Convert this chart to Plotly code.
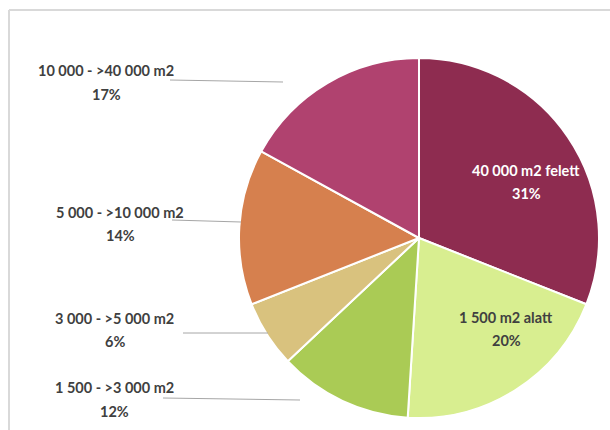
import plotly.graph_objects as go

# slice order: clockwise from 12 o'clock
categories = ["40 000 m2 felett", "1 500 m2 alatt", "1 500 - >3 000 m2",
              "3 000 - >5 000 m2", "5 000 - >10 000 m2", "10 000 - >40 000 m2"]
shares = [31, 20, 12, 6, 14, 17]
colors = ["#8E2C50", "#D8EE90", "#AACB55", "#D9C27E", "#D6804E", "#B0426F"]

W, H = 610, 430
FONT = "Lato"
GREY = "#404040"

# label placement (pixel coords): name centre x, name y, pct y, text colour
label_pos = {
    "40 000 m2 felett": (526, 170, 193, "white"),
    "1 500 m2 alatt": (506, 317, 340, GREY),
    "1 500 - >3 000 m2": (115, 387, 411, GREY),
    "3 000 - >5 000 m2": (115, 318, 341, GREY),
    "5 000 - >10 000 m2": (120, 212, 235, GREY),
    "10 000 - >40 000 m2": (106, 70, 94, GREY),
}
# leader lines (pixel coords)
leaders = {
    "1 500 - >3 000 m2": (163, 398, 300, 400),
    "3 000 - >5 000 m2": (183, 333, 268, 333),
    "5 000 - >10 000 m2": (172, 220, 241, 222),
    "10 000 - >40 000 m2": (170, 80, 283, 82),
}

cx, cy, r = 419, 238, 180

fig = go.Figure(go.Pie(
    labels=categories,
    values=shares,
    sort=False,
    direction="clockwise",
    rotation=0,
    marker=dict(colors=colors, line=dict(color="white", width=2)),
    textinfo="none",
    hoverinfo="label+percent",
    domain=dict(x=[(cx - r) / W, (cx + r) / W], y=[1 - (cy + r) / H, 1 - (cy - r) / H]),
    showlegend=False,
))


def px(x):
    return x / W


def py(y):
    return 1 - y / H


annotations = []
for cat, val in zip(categories, shares):
    x, y1, y2, col = label_pos[cat]
    for txt, y in ((cat, y1), (f"{val}%", y2)):
        annotations.append(dict(
            x=px(x), y=py(y), xref="paper", yref="paper", text=f"<b>{txt}</b>",
            showarrow=False, xanchor="center", yanchor="middle",
            font=dict(family=FONT, size=14.5, color=col),
        ))

shapes = []
for cat, (x0, y0, x1, y1) in leaders.items():
    shapes.append(dict(type="line", xref="paper", yref="paper",
                       x0=px(x0), y0=py(y0), x1=px(x1), y1=py(y1),
                       line=dict(color="#A6A6A6", width=1)))
# chart frame (left and top edges)
shapes.append(dict(type="line", xref="paper", yref="paper", x0=px(9), y0=py(10), x1=px(9), y1=0,
                   line=dict(color="#D9D9D9", width=2)))
shapes.append(dict(type="line", xref="paper", yref="paper", x0=px(9), y0=py(10), x1=1, y1=py(10),
                   line=dict(color="#D9D9D9", width=2)))

fig.update_layout(
    width=W, height=H,
    margin=dict(l=0, r=0, t=0, b=0),
    paper_bgcolor="white",
    plot_bgcolor="white",
    annotations=annotations,
    shapes=shapes,
)

# drop the browser's default body margin so the figure sits at the page origin
fig.write_html("out.html", config={"displayModeBar": False},
               post_script="document.body.style.margin='0';")
